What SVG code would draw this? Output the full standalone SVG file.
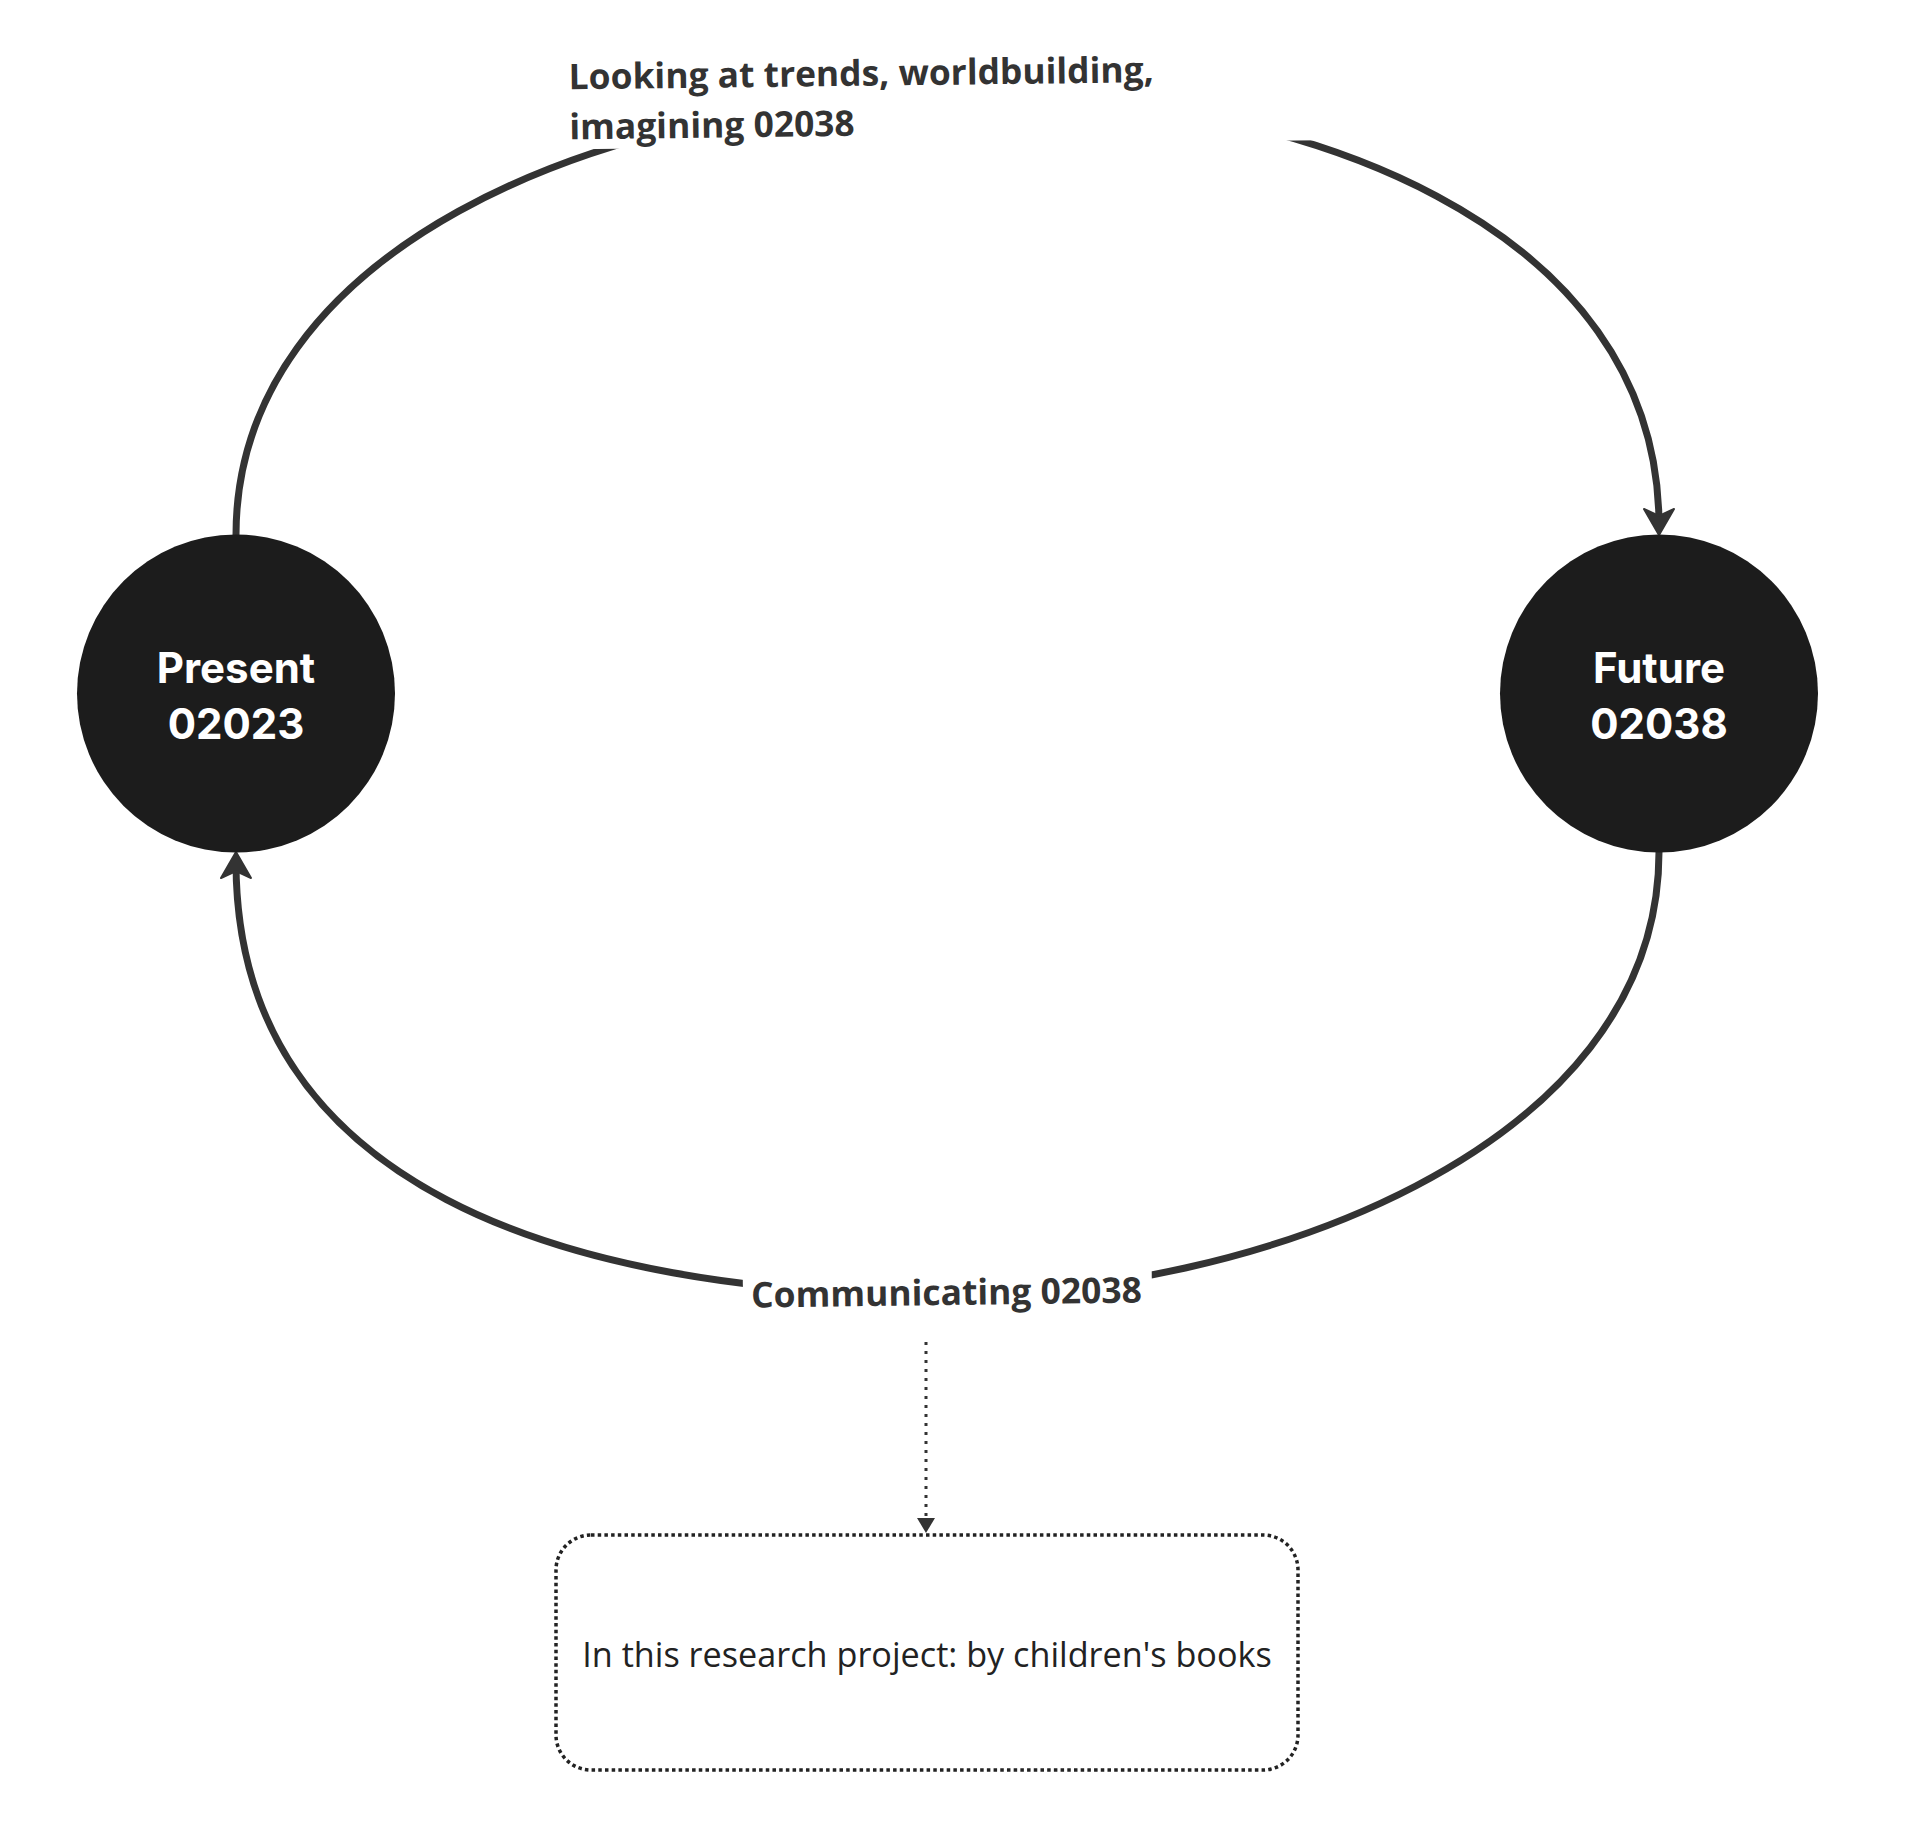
<svg xmlns="http://www.w3.org/2000/svg" width="1920" height="1837" viewBox="0 0 1920 1837">
  <style>
    .conn { fill: none; stroke: #333333; stroke-width: 7; }
    .dot { fill: none; stroke: #333333; stroke-width: 3; stroke-dasharray: 3 6; }
    .lblbg { fill: #ffffff; stroke: none; }
    .lbl { font-family: "Open Sans", "Noto Sans", "Liberation Sans", sans-serif; font-weight: 700; font-size: 35.4px; fill: #333333; }
    .circ { fill: #1c1c1c; }
    .ctext { font-family: Inter, "Open Sans", "Liberation Sans", sans-serif; font-weight: 700; font-size: 42px; fill: #ffffff; text-anchor: middle; }
    .box { fill: #ffffff; stroke: #222222; stroke-width: 3.5; stroke-dasharray: 3.5 3.2; }
    .btext { font-family: "Open Sans", "Noto Sans", "Liberation Sans", sans-serif; font-size: 34.2px; fill: #222222; text-anchor: middle; }
  </style>
  <defs>
    <marker id="arrowBig" viewBox="-20 -20 40 40" markerUnits="userSpaceOnUse" markerWidth="40" markerHeight="40" refX="0" refY="0" orient="auto">
      <path d="M-16,-15 L10,0 L-16,15 L-9,0 Z" fill="#333333" stroke="#333333" stroke-width="2" stroke-linejoin="round"/>
    </marker>
    <marker id="arrowSmall" viewBox="-20 -20 40 40" markerUnits="userSpaceOnUse" markerWidth="40" markerHeight="40" refX="0" refY="0" orient="auto">
      <path d="M-3,-9 L12,0 L-3,9 Z" fill="#333333"/>
    </marker>
  </defs>

  <g id="connectors">
    <path id="edge-present-future" class="conn" d="M236,535 C236,-30 1659,-70 1659,525" marker-end="url(#arrowBig)"/>
    <path id="edge-future-present" class="conn" d="M1659,852 C1659,1152 1247.5,1295 947.5,1295 C560,1295 236,1185 236,862" marker-end="url(#arrowBig)"/>
    <path id="edge-comm-box" class="dot" d="M926,1342 L926,1521" marker-end="url(#arrowSmall)"/>
    <g id="label-top" transform="rotate(-0.7 925 100)">
      <rect class="lblbg" x="555" y="35" width="765" height="110"/>
      <text class="lbl" x="569" y="85">Looking at trends, worldbuilding,</text>
      <text class="lbl" x="569" y="135">imagining 02038</text>
    </g>
    <g id="label-bottom" transform="rotate(-0.75 947 1295)">
      <rect class="lblbg" x="743" y="1245" width="409" height="90"/>
      <text class="lbl" x="946.5" y="1305" text-anchor="middle">Communicating 02038</text>
    </g>
  </g>

  <g id="node-present">
    <circle class="circ" cx="236" cy="693.5" r="159"/>
    <text class="ctext" x="236" y="683">Present</text>
    <text class="ctext" x="236" y="739">02023</text>
  </g>

  <g id="node-future">
    <circle class="circ" cx="1659" cy="693.5" r="159"/>
    <text class="ctext" x="1659" y="683">Future</text>
    <text class="ctext" x="1659" y="739">02038</text>
  </g>

  <g id="node-box">
    <rect class="box" x="556" y="1535" width="742" height="235" rx="35" ry="35"/>
    <text class="btext" x="927" y="1667">In this research project: by children's books</text>
  </g>
</svg>
